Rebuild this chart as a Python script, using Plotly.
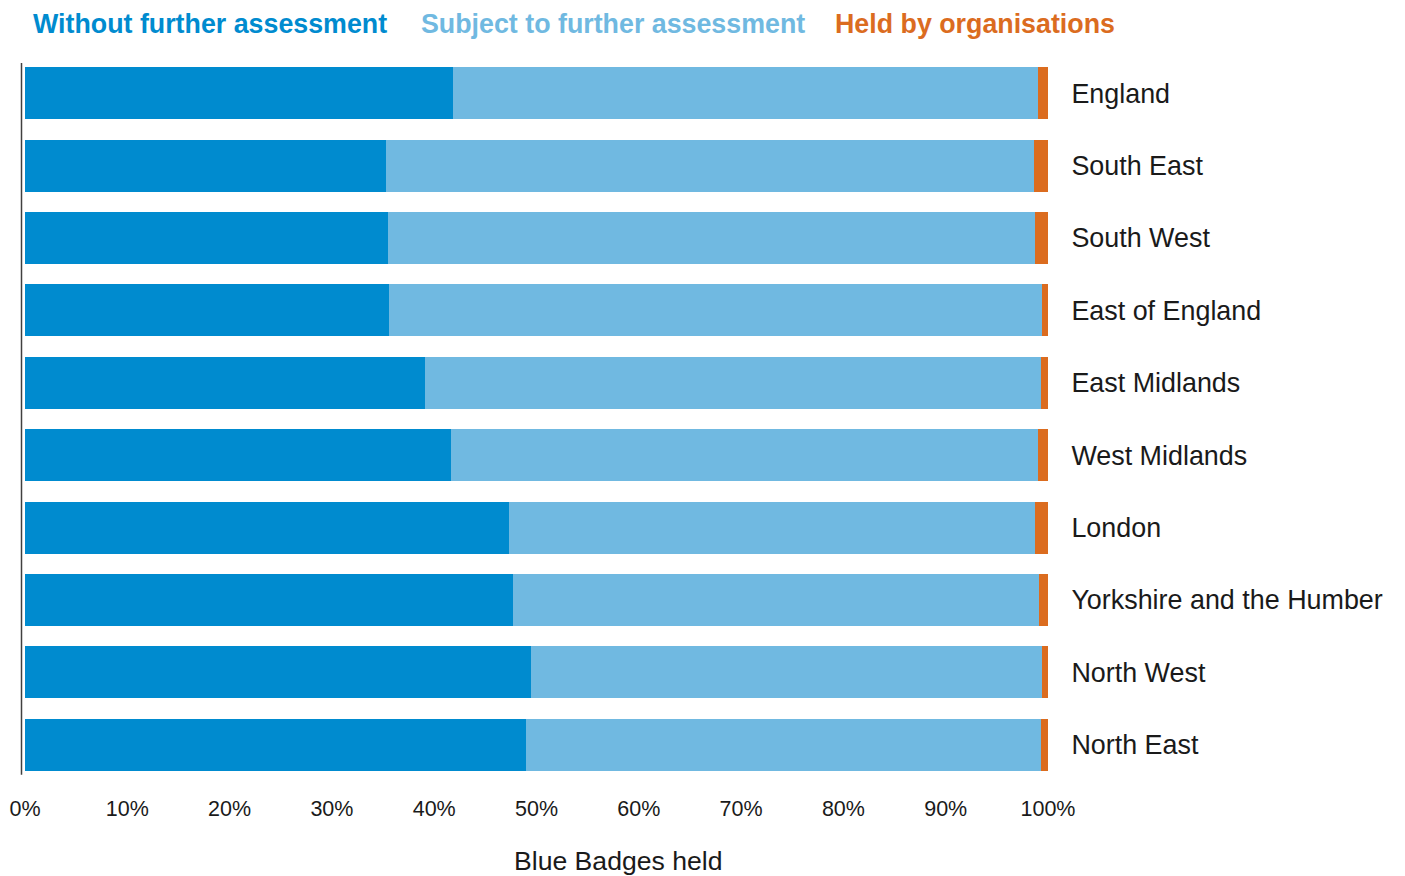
import plotly.graph_objects as go

regions = ["England", "South East", "South West", "East of England", "East Midlands",
           "West Midlands", "London", "Yorkshire and the Humber", "North West", "North East"]
without_further = [41.8, 35.3, 35.5, 35.6, 39.1, 41.6, 47.3, 47.7, 49.5, 49.0]
subject_further = [57.2, 63.3, 63.2, 63.8, 60.2, 57.4, 51.4, 51.4, 49.9, 50.3]
held_orgs = [1.0, 1.4, 1.3, 0.6, 0.7, 1.0, 1.3, 0.9, 0.6, 0.7]
x_ticks = [0, 10, 20, 30, 40, 50, 60, 70, 80, 90, 100]
x_tick_labels = [f"{v}%" for v in x_ticks]
x_title = "Blue Badges held"

series_names = ["Without further assessment", "Subject to further assessment", "Held by organisations"]
colors = ["#008BCF", "#70B9E1", "#DB6C1F"]
series_values = [without_further, subject_further, held_orgs]

FONT = "Liberation Sans, Arial, sans-serif"

fig = go.Figure()
for name, vals, col in zip(series_names, series_values, colors):
    fig.add_trace(go.Bar(
        y=regions, x=vals, name=name, orientation="h",
        marker=dict(color=col, line=dict(width=0)),
        width=0.72, showlegend=False,
    ))

W, H = 1405, 876
l, r, t, b = 25, 1405 - 1048.3, 56.8, 876 - 781.2
plot_h = H - t - b
plot_w = W - l - r

def px_x(px):
    return (px - l) / plot_w

def px_y(py):
    return 1 - (py - t) / plot_h

legend_x = [31, 419, 833.5]
for name, col, xp in zip(series_names, colors, legend_x):
    fig.add_annotation(
        text=f"<b>{name}</b>", xref="paper", yref="paper",
        x=px_x(xp), y=px_y(24), xanchor="left", yanchor="middle",
        showarrow=False, font=dict(family=FONT, size=26.8, color=col),
    )

# x-axis title (centred as in the reference, not on the plot area)
fig.add_annotation(
    text=x_title, xref="paper", yref="paper",
    x=px_x(618), y=px_y(861), xanchor="center", yanchor="middle",
    showarrow=False, font=dict(family=FONT, size=26.6, color="#1a1a1a"),
)

# left axis line
fig.add_shape(type="line", xref="paper", yref="paper",
              x0=px_x(21.5), x1=px_x(21.5), y0=px_y(62.7), y1=px_y(775),
              line=dict(color="#404040", width=1.5))

fig.update_layout(
    template="none",
    width=W, height=H,
    margin=dict(l=l, r=r, t=t, b=b, pad=0, autoexpand=False),
    barmode="stack", bargap=0.28,
    plot_bgcolor="white", paper_bgcolor="white",
    font=dict(family=FONT, color="#1a1a1a"),
    xaxis=dict(
        range=[0, 100], tickvals=x_ticks, ticktext=x_tick_labels,
        showgrid=False, zeroline=False, showline=False, automargin=False,
        ticks="outside", ticklen=8, tickcolor="rgba(0,0,0,0)",
        tickfont=dict(family=FONT, size=21.5, color="#1a1a1a"),
        fixedrange=True,
    ),
    yaxis=dict(
        categoryorder="array", categoryarray=regions, autorange="reversed",
        side="right", showgrid=False, zeroline=False, showline=False, automargin=False,
        ticks="outside", ticklen=17, tickcolor="rgba(0,0,0,0)",
        tickfont=dict(family=FONT, size=26.9, color="#1a1a1a"),
        fixedrange=True,
    ),
)

fig.write_html("out.html", config={"displayModeBar": False})
